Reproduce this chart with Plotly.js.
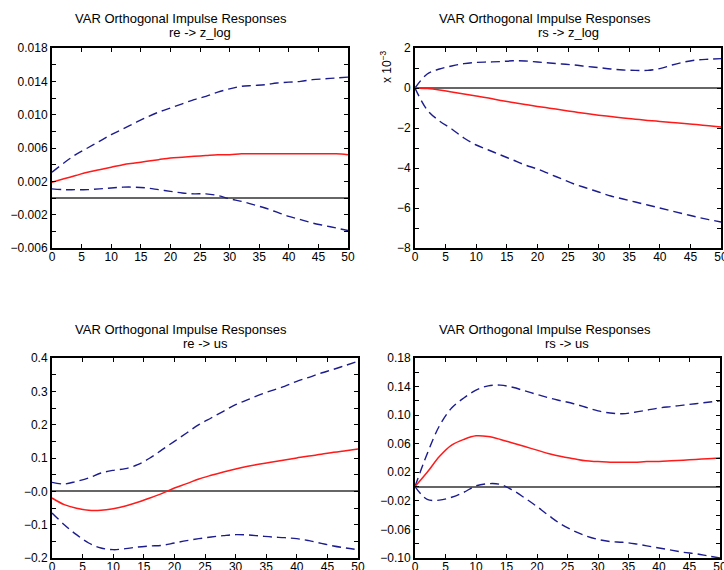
<!DOCTYPE html>
<html>
<head>
<meta charset="utf-8">
<script src="https://cdn.plot.ly/plotly-3.0.1.min.js"></script>
<style>html,body{margin:0;padding:0;background:#fff;}#chart{width:724px;height:570px;}</style>
</head>
<body>
<div id="chart"></div>
<script>
// Horizons
const horizon = [0,2,4,6,8,10,12,14,16,18,20,22,24,26,28,30,32,34,36,38,40,42,44,46,48,50];

// Panel 1: re -> z_log
const reZ_mid = [0.0019,0.0023,0.0027,0.0031,0.0034,0.0037,0.0040,0.0042,0.0044,0.0046,0.0048,0.0049,0.0050,0.0051,0.0052,0.0052,0.0053,0.0053,0.0053,0.0053,0.0053,0.0053,0.0053,0.0053,0.0053,0.0052];
const reZ_up  = [0.0031,0.0042,0.0052,0.0060,0.0068,0.0076,0.0083,0.0090,0.0097,0.0103,0.0108,0.0113,0.0118,0.0122,0.0127,0.0131,0.0134,0.0135,0.0136,0.0138,0.0139,0.0140,0.0142,0.0143,0.0144,0.0145];
const reZ_lo  = [0.0011,0.0010,0.0010,0.0010,0.0011,0.0012,0.0013,0.0013,0.0012,0.0010,0.0008,0.0006,0.0005,0.0005,0.0003,-0.0001,-0.0004,-0.0008,-0.0012,-0.0017,-0.0022,-0.0026,-0.0030,-0.0033,-0.0036,-0.0039];

// Panel 2: rs -> z_log (x 10^-3)
const rsZ_mid = [0,-0.03,-0.10,-0.20,-0.30,-0.40,-0.50,-0.62,-0.72,-0.82,-0.92,-1.01,-1.10,-1.19,-1.28,-1.36,-1.43,-1.50,-1.56,-1.62,-1.67,-1.72,-1.77,-1.83,-1.89,-1.95];
const rsZ_up  = [0,0.70,0.95,1.10,1.22,1.28,1.30,1.32,1.36,1.35,1.30,1.25,1.20,1.15,1.08,1.02,0.95,0.90,0.88,0.88,0.97,1.15,1.30,1.40,1.44,1.47];
const rsZ_lo  = [0,-1.10,-1.65,-2.05,-2.50,-2.85,-3.10,-3.35,-3.60,-3.85,-4.05,-4.30,-4.55,-4.80,-5.00,-5.20,-5.40,-5.55,-5.70,-5.85,-6.00,-6.15,-6.30,-6.45,-6.58,-6.70];

// Panel 3: re -> us
const reU_mid = [-0.020,-0.040,-0.051,-0.057,-0.057,-0.052,-0.044,-0.033,-0.020,-0.006,0.010,0.023,0.037,0.048,0.058,0.067,0.075,0.082,0.088,0.094,0.100,0.106,0.111,0.117,0.122,0.127];
const reU_up  = [0.027,0.022,0.030,0.040,0.055,0.063,0.068,0.080,0.100,0.125,0.150,0.175,0.200,0.220,0.240,0.260,0.275,0.290,0.303,0.315,0.330,0.342,0.355,0.366,0.378,0.390];
const reU_lo  = [-0.065,-0.100,-0.130,-0.155,-0.170,-0.175,-0.172,-0.167,-0.164,-0.162,-0.155,-0.148,-0.142,-0.137,-0.133,-0.130,-0.131,-0.134,-0.137,-0.139,-0.142,-0.148,-0.156,-0.164,-0.170,-0.175];

// Panel 4: rs -> us
const rsU_mid = [0,0.020,0.042,0.058,0.066,0.071,0.070,0.066,0.061,0.056,0.051,0.046,0.042,0.039,0.036,0.035,0.034,0.034,0.034,0.035,0.035,0.036,0.037,0.038,0.039,0.040];
const rsU_up  = [0,0.046,0.085,0.110,0.124,0.135,0.141,0.142,0.139,0.134,0.129,0.124,0.120,0.116,0.111,0.106,0.103,0.102,0.104,0.107,0.110,0.112,0.114,0.116,0.118,0.120];
const rsU_lo  = [0,-0.018,-0.019,-0.015,-0.008,0.001,0.004,0.003,-0.005,-0.016,-0.028,-0.041,-0.053,-0.062,-0.069,-0.074,-0.077,-0.078,-0.080,-0.083,-0.086,-0.089,-0.092,-0.094,-0.097,-0.100];

// Tick labels
const xTickVals = [0,5,10,15,20,25,30,35,40,45,50];
const xTickText = ["0","5","10","15","20","25","30","35","40","45","50"];
const y1Vals = [-0.006,-0.002,0.002,0.006,0.010,0.014,0.018];
const y1Text = ["\u22120.006","\u22120.002","0.002","0.006","0.010","0.014","0.018"];
const y2Vals = [-8,-6,-4,-2,0,2];
const y2Text = ["\u22128","\u22126","\u22124","\u22122","0","2"];
const y3Vals = [-0.2,-0.1,0,0.1,0.2,0.3,0.4];
const y3Text = ["\u22120.2","\u22120.1","\u22120.0","0.1","0.2","0.3","0.4"];
const y4Vals = [-0.10,-0.06,-0.02,0.02,0.06,0.10,0.14,0.18];
const y4Text = ["\u22120.10","\u22120.06","\u22120.02","0.02","0.06","0.10","0.14","0.18"];

const titleMain = "VAR Orthogonal Impulse Responses";
const subTitles = ["re -> z_log","rs -> z_log","re -> us","rs -> us"];

const W = 724, H = 570;
const RED = "#ff1a1a", BLUE = "#1c1c8e";

const panels = [
  {mid: reZ_mid, up: reZ_up, lo: reZ_lo, ax: ""},
  {mid: rsZ_mid, up: rsZ_up, lo: rsZ_lo, ax: "2"},
  {mid: reU_mid, up: reU_up, lo: reU_lo, ax: "3"},
  {mid: rsU_mid, up: rsU_up, lo: rsU_lo, ax: "4"}
];

const traces = [];
panels.forEach(p => {
  const xa = "x" + p.ax, ya = "y" + p.ax;
  traces.push({x: horizon, y: p.up, xaxis: xa, yaxis: ya, mode: "lines", line: {color: BLUE, width: 1.4, dash: "9px,5px", shape: "spline"}, hoverinfo: "skip"});
  traces.push({x: horizon, y: p.lo, xaxis: xa, yaxis: ya, mode: "lines", line: {color: BLUE, width: 1.4, dash: "9px,5px", shape: "spline"}, hoverinfo: "skip"});
  traces.push({x: horizon, y: p.mid, xaxis: xa, yaxis: ya, mode: "lines", line: {color: RED, width: 1.5, shape: "spline"}, hoverinfo: "skip"});
});

const font = {family: "Liberation Sans, Arial, sans-serif", size: 12, color: "#000"};
const titleFont = {family: "Liberation Sans, Arial, sans-serif", size: 13, color: "#000"};

function xAxis(l, r, anchor) {
  return {
    domain: [l / W, r / W], range: [0, 50], tickvals: xTickVals, ticktext: xTickText,
    anchor: anchor, ticklabeloverflow: "allow", ticklabelstandoff: -3,
    ticks: "inside", ticklen: 4, tickwidth: 1, tickcolor: "#000",
    showline: true, linecolor: "#000", linewidth: 2, mirror: "ticks",
    showgrid: false, zeroline: false, tickfont: font, fixedrange: true
  };
}
function yAxis(t, b, range, vals, text, minorStep, anchor) {
  return {
    domain: [1 - b / H, 1 - t / H], range: range, tickvals: vals, ticktext: text,
    anchor: anchor,
    ticks: "inside", ticklen: 4, tickwidth: 1, tickcolor: "#000",
    minor: {dtick: minorStep, tick0: 0, ticks: "inside", ticklen: 4, tickcolor: "#000", showgrid: false},
    showline: true, linecolor: "#000", linewidth: 2, mirror: "ticks",
    showgrid: false, zeroline: true, zerolinecolor: "#666", zerolinewidth: 2,
    tickfont: font, fixedrange: true
  };
}

const layout = {
  width: W, height: H,
  margin: {l: 0, r: 0, t: 0, b: 0},
  paper_bgcolor: "#fff", plot_bgcolor: "#fff",
  showlegend: false,
  font: font,
  xaxis: xAxis(52, 348, "y"),
  yaxis: yAxis(48, 248, [-0.006, 0.018], y1Vals, y1Text, 0.002, "x"),
  xaxis2: xAxis(415, 721, "y2"),
  yaxis2: yAxis(48, 248, [-8, 2], y2Vals, y2Text, 1, "x2"),
  xaxis3: xAxis(52, 358, "y3"),
  yaxis3: yAxis(358, 558, [-0.2, 0.4], y3Vals, y3Text, 0.05, "x3"),
  xaxis4: xAxis(415, 720, "y4"),
  yaxis4: yAxis(358, 558, [-0.10, 0.18], y4Vals, y4Text, 0.02, "x4"),
  annotations: []
};

const titlePos = [
  {x1: 181, y1: 19, x2: 200, y2: 33},
  {x1: 545, y1: 19, x2: 568, y2: 33},
  {x1: 181, y1: 329, x2: 205, y2: 343},
  {x1: 545, y1: 329, x2: 567, y2: 343}
];
titlePos.forEach((t, i) => {
  layout.annotations.push({xref: "paper", yref: "paper", x: t.x1 / W, y: 1 - t.y1 / H, text: titleMain, showarrow: false, xanchor: "center", yanchor: "middle", font: titleFont});
  layout.annotations.push({xref: "paper", yref: "paper", x: t.x2 / W, y: 1 - t.y2 / H, text: subTitles[i], showarrow: false, xanchor: "center", yanchor: "middle", font: titleFont});
});
layout.annotations.push({xref: "paper", yref: "paper", x: 386 / W, y: 1 - 67 / H, text: "x 10<sup>\u22123</sup>", textangle: -90, showarrow: false, xanchor: "center", yanchor: "middle", font: {family: font.family, size: 12, color: "#000"}});

Plotly.newPlot("chart", traces, layout, {staticPlot: true, displayModeBar: false});
</script>
</body>
</html>
